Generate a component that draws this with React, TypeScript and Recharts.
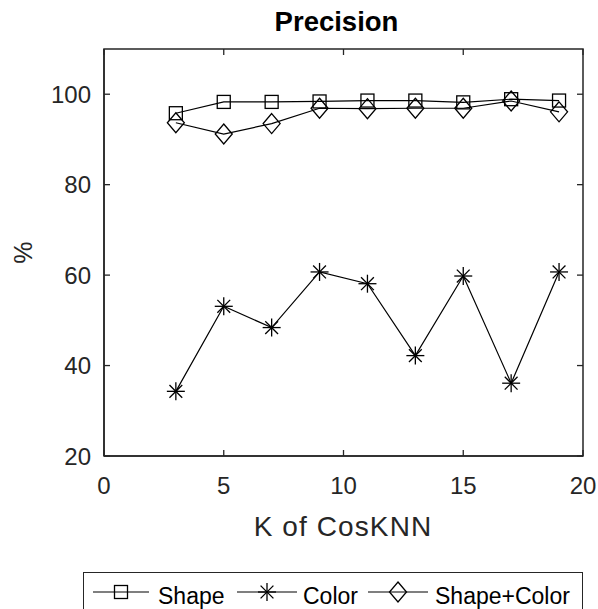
import React from 'react';
import { LineChart, Line, XAxis, YAxis, ReferenceArea, Legend, Label } from 'recharts';

const K_VALUES = [3, 5, 7, 9, 11, 13, 15, 17, 19];
const SHAPE = [95.8, 98.3, 98.3, 98.4, 98.6, 98.6, 98.2, 98.9, 98.6];
const COLOR = [34.3, 53.1, 48.4, 60.7, 58.1, 42.2, 59.8, 36.1, 60.7];
const SHAPE_COLOR = [93.7, 91.2, 93.5, 96.9, 96.8, 96.9, 96.9, 98.5, 96.1];
const X_TICKS = [0, 5, 10, 15, 20];
const Y_TICKS = [20, 40, 60, 80, 100];
const SERIES_NAMES = ['Shape', 'Color', 'Shape+Color'];

const data = K_VALUES.map((k, i) => ({ k, shape: SHAPE[i], color: COLOR[i], shapeColor: SHAPE_COLOR[i] }));

const W = 598;
const H = 609;
const PLOT_LEFT = 104;
const PLOT_RIGHT = 583;
const PLOT_TOP = 49;
const PLOT_BOTTOM = 456;
const X_AXIS_H = 30;
const Y_AXIS_W = 60;
const FONT = '"Liberation Sans", Arial, Helvetica, sans-serif';
const AX = '#262626';
const TICK_LEN = 6;

const SquareDot = (p: any) => {
  const { cx, cy } = p;
  if (cx == null || cy == null) return null;
  return <rect x={cx - 6.5} y={cy - 6.5} width={13} height={13} fill="none" stroke="#000" strokeWidth={1.3} />;
};
const DiamondDot = (p: any) => {
  const { cx, cy } = p;
  if (cx == null || cy == null) return null;
  return (
    <polygon
      points={`${cx},${cy - 10} ${cx + 8.5},${cy} ${cx},${cy + 10} ${cx - 8.5},${cy}`}
      fill="none"
      stroke="#000"
      strokeWidth={1.3}
    />
  );
};
const StarDot = (p: any) => {
  const { cx, cy } = p;
  if (cx == null || cy == null) return null;
  const r = 9;
  const d = 6.4;
  return (
    <g stroke="#000" strokeWidth={1.3}>
      <line x1={cx - r} y1={cy} x2={cx + r} y2={cy} />
      <line x1={cx} y1={cy - r} x2={cx} y2={cy + r} />
      <line x1={cx - d} y1={cy - d} x2={cx + d} y2={cy + d} />
      <line x1={cx - d} y1={cy + d} x2={cx + d} y2={cy - d} />
    </g>
  );
};

const XTick = (props: any) => {
  const { x, payload } = props;
  return (
    <g>
      <line x1={x} y1={PLOT_BOTTOM} x2={x} y2={PLOT_BOTTOM - TICK_LEN} stroke={AX} strokeWidth={1.3} />
      <line x1={x} y1={PLOT_TOP} x2={x} y2={PLOT_TOP + TICK_LEN} stroke={AX} strokeWidth={1.3} />
      <text x={x} y={494} textAnchor="middle" fontSize={24} fontFamily={FONT} fill={AX}>
        {payload.value}
      </text>
    </g>
  );
};

const YTick = (props: any) => {
  const { y, payload } = props;
  return (
    <g>
      <line x1={PLOT_LEFT} y1={y} x2={PLOT_LEFT + TICK_LEN} y2={y} stroke={AX} strokeWidth={1.3} />
      <line x1={PLOT_RIGHT} y1={y} x2={PLOT_RIGHT - TICK_LEN} y2={y} stroke={AX} strokeWidth={1.3} />
      <text x={91} y={y + 8.8} textAnchor="end" fontSize={24} fontFamily={FONT} fill={AX}>
        {payload.value}
      </text>
    </g>
  );
};

const XLabel = (props: any) => {
  const vb = props.viewBox || {};
  const cx = vb.x + vb.width / 2 - 0.5;
  return (
    <text x={cx} y={536} textAnchor="middle" fontSize={28} letterSpacing={1.1} fontFamily={FONT} fill={AX}>
      K of CosKNN
    </text>
  );
};

const YLabel = (props: any) => {
  const vb = props.viewBox || {};
  const cy = vb.y + vb.height / 2;
  return (
    <text
      x={22.5}
      y={cy}
      transform={`rotate(-90, 22.5, ${cy})`}
      textAnchor="middle"
      dominantBaseline="central"
      fontSize={25}
      fontFamily={FONT}
      fill={AX}
    >
      %
    </text>
  );
};

const LEGEND_ITEMS = [
  { lineFrom: 10, lineTo: 66, textX: 75, Marker: SquareDot },
  { lineFrom: 154, lineTo: 214, textX: 220, Marker: StarDot },
  { lineFrom: 285, lineTo: 345, textX: 352, Marker: DiamondDot },
];

const LegendContent = () => (
  <svg width={500} height={40} style={{ display: 'block', overflow: 'visible' }}>
    <rect x={0.5} y={0.5} width={499} height={60} fill="#fff" stroke={AX} strokeWidth={1} />
    {LEGEND_ITEMS.map((it, i) => {
      const M = it.Marker;
      const mx = (it.lineFrom + it.lineTo) / 2;
      return (
        <g key={i}>
          <line x1={it.lineFrom} y1={20} x2={it.lineTo} y2={20} stroke="#000" strokeWidth={1.2} />
          <M cx={mx} cy={20} />
          <text x={it.textX} y={31.5} fontSize={23} fontFamily={FONT} fill="#000">
            {SERIES_NAMES[i]}
          </text>
        </g>
      );
    })}
  </svg>
);

export default function App() {
  return (
    <div style={{ position: 'absolute', left: 0, top: 0, width: W, height: H, overflow: 'hidden', background: '#fff' }}>
      <div
        style={{
          position: 'absolute',
          left: PLOT_LEFT - 7,
          width: PLOT_RIGHT - PLOT_LEFT,
          top: 5,
          textAlign: 'center',
          fontFamily: FONT,
          fontWeight: 'bold',
          fontSize: 27.5,
          lineHeight: '34px',
          color: '#000',
          zIndex: 2,
        }}
      >
        Precision
      </div>
      <LineChart
        width={W}
        height={H}
        data={data}
        margin={{ top: PLOT_TOP, right: W - PLOT_RIGHT, bottom: H - PLOT_BOTTOM - X_AXIS_H, left: PLOT_LEFT - Y_AXIS_W }}
      >
        <XAxis
          dataKey="k"
          type="number"
          domain={[0, 20]}
          ticks={X_TICKS}
          height={X_AXIS_H}
          tickLine={false}
          axisLine={{ stroke: AX, strokeWidth: 1.5 }}
          tick={<XTick />}
          interval={0}
          allowDataOverflow
        >
          <Label content={<XLabel />} />
        </XAxis>
        <YAxis
          type="number"
          domain={[20, 110]}
          ticks={Y_TICKS}
          width={Y_AXIS_W}
          tickLine={false}
          axisLine={{ stroke: AX, strokeWidth: 1.5 }}
          tick={<YTick />}
          interval={0}
          allowDataOverflow
        >
          <Label content={<YLabel />} />
        </YAxis>
        <ReferenceArea x1={0} x2={20} y1={20} y2={110} fill="none" stroke={AX} strokeWidth={1.5} ifOverflow="visible" />
        <Line
          name={SERIES_NAMES[0]}
          dataKey="shape"
          stroke="#000"
          strokeWidth={1.2}
          dot={<SquareDot />}
          activeDot={false}
          isAnimationActive={false}
        />
        <Line
          name={SERIES_NAMES[1]}
          dataKey="color"
          stroke="#000"
          strokeWidth={1.2}
          dot={<StarDot />}
          activeDot={false}
          isAnimationActive={false}
        />
        <Line
          name={SERIES_NAMES[2]}
          dataKey="shapeColor"
          stroke="#000"
          strokeWidth={1.2}
          dot={<DiamondDot />}
          activeDot={false}
          isAnimationActive={false}
        />
        <Legend
          layout="vertical"
          align="center"
          verticalAlign="middle"
          content={<LegendContent />}
          wrapperStyle={{ position: 'absolute', left: 83, top: 572, width: 500, height: 40, margin: 0, padding: 0 }}
        />
      </LineChart>
    </div>
  );
}
